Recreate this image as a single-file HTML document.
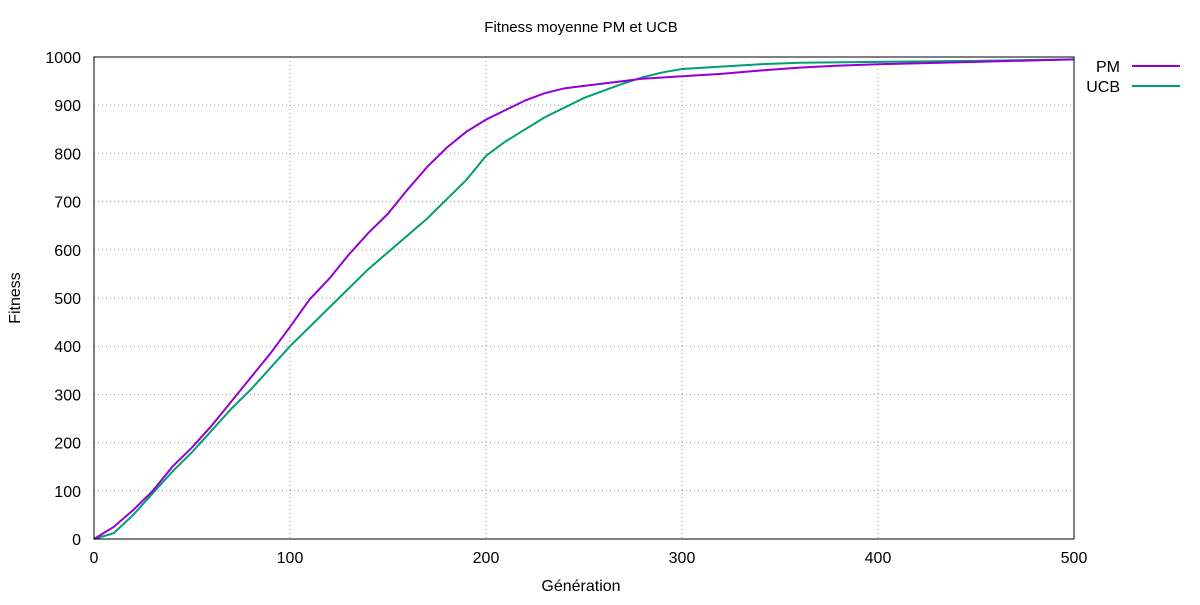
<!DOCTYPE html>
<html><head><meta charset="utf-8"><style>
body{margin:0;background:#fff}
svg{font-family:"Liberation Sans",sans-serif;}
</style></head><body>
<svg id="chart" width="1200" height="600">
<text x="581" y="32" text-anchor="middle" font-size="15">Fitness moyenne PM et UCB</text>
<text x="20" y="298" text-anchor="middle" font-size="16" transform="rotate(-90 20 298)">Fitness</text>
<text x="581" y="591" text-anchor="middle" font-size="16">Génération</text>
<g id="grid"></g><g id="series"></g>
<rect x="94" y="57" width="980" height="482" fill="none" stroke="#000" stroke-width="1"/>
<g><text x="1120" y="72" text-anchor="end" font-size="16">PM</text><line x1="1132" y1="66" x2="1180" y2="66" stroke="#9400d3" stroke-width="2"/></g>
<g><text x="1120" y="92" text-anchor="end" font-size="16">UCB</text><line x1="1132" y1="86" x2="1180" y2="86" stroke="#009e73" stroke-width="2"/></g>
</svg>
<script>
const xTicks=[0,100,200,300,400,500];
const yTicks=[0,100,200,300,400,500,600,700,800,900,1000];
const pmGen=[0,10,20,30,40,50,60,70,80,90,100,110,120,130,140,150,160,170,180,190,200,210,220,230,240,250,260,270,280,300,320,340,360,380,400,450,500];
const pmFit=[0,25,60,100,150,190,235,285,335,385,440,497,540,590,635,675,725,772,812,845,870,890,910,925,935,940,945,950,955,960,965,972,978,982,985,990,995];
const ucbGen=[0,10,20,30,40,50,60,70,80,90,100,110,120,130,140,150,160,170,180,190,200,210,220,230,240,250,260,270,280,290,300,320,340,360,400,450,500];
const ucbFit=[0,12,50,95,140,180,225,270,310,355,400,440,480,520,560,595,630,665,705,745,795,825,850,875,895,915,930,945,958,968,975,980,985,988,990,992,995];
const X=v=>94+v/500*980, Y=v=>539-v/1000*482;
const NS='http://www.w3.org/2000/svg';
const grid=document.getElementById('grid'), ser=document.getElementById('series');
function mk(tag,attrs,parent){const e=document.createElementNS(NS,tag);for(const k in attrs)e.setAttribute(k,attrs[k]);parent.appendChild(e);return e;}
xTicks.forEach(t=>{
  if(t>0&&t<500){const l=mk('line',{x1:X(t),x2:X(t),y1:57,y2:539,stroke:'#999','stroke-dasharray':'1,3','stroke-width':1},grid);
  
  }
  const tx=mk('text',{x:X(t),y:563,'text-anchor':'middle','font-size':16},grid);tx.textContent=t;
  
  
});
yTicks.forEach(t=>{
  if(t>0&&t<1000){const l=mk('line',{x1:94,x2:1074,y1:Y(t),y2:Y(t),stroke:'#999','stroke-dasharray':'1,3','stroke-width':1},grid);
  
  }
  const tx=mk('text',{x:81,y:Y(t)+6,'text-anchor':'end','font-size':16},grid);tx.textContent=t;
  
  
});
function line(g,f,c,name){const p=mk('polyline',{points:g.map((v,i)=>X(v)+','+Y(f[i])).join(' '),fill:'none',stroke:c,'stroke-width':2},ser);
  
  }
line(ucbGen,ucbFit,'#009e73','ucb-line');
line(pmGen,pmFit,'#9400d3','pm-line');
</script>
</body></html>
